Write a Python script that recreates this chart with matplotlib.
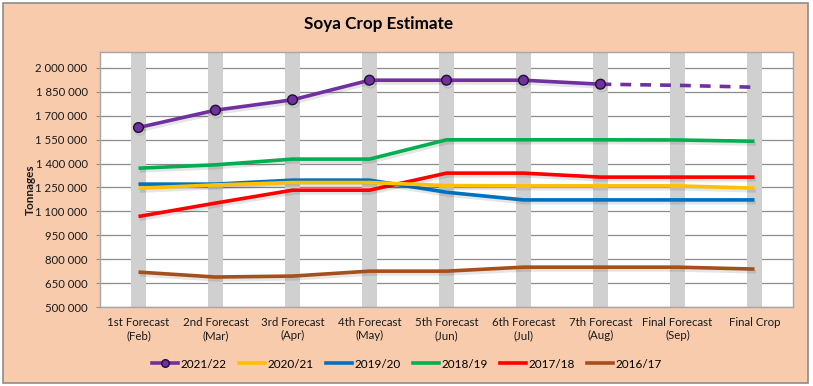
import matplotlib
matplotlib.use("Agg")
import matplotlib.pyplot as plt
import matplotlib.patheffects as pe
from matplotlib.patches import Rectangle
from matplotlib.lines import Line2D
from matplotlib.ticker import FuncFormatter
import numpy as np

categories = ["1st Forecast\n(Feb)", "2nd Forecast\n(Mar)", "3rd Forecast\n(Apr)", "4th Forecast\n(May)",
              "5th Forecast\n(Jun)", "6th Forecast\n(Jul)", "7th Forecast\n(Aug)", "Final Forecast\n(Sep)",
              "Final Crop"]

s2021_22 = [1626000, 1735000, 1800000, 1923000, 1923000, 1923000, 1898000, None, None]
s2021_22_proj = [None, None, None, None, None, None, 1898000, 1891000, 1879000]
s2020_21 = [1245000, 1266000, 1281000, 1281000, 1262000, 1260000, 1260000, 1260000, 1246000]
s2019_20 = [1271000, 1271000, 1296000, 1296000, 1220000, 1172000, 1172000, 1172000, 1172000]
s2018_19 = [1371000, 1392000, 1428000, 1428000, 1549000, 1549000, 1549000, 1548000, 1540000]
s2017_18 = [1068000, 1152000, 1233000, 1233000, 1340000, 1340000, 1315000, 1315000, 1315000]
s2016_17 = [719000, 688000, 694000, 725000, 725000, 750000, 750000, 750000, 738000]
highlight = [2100000, 2100000, 2100000, 2100000, 2100000, 2100000, 2100000, 2100000, 2100000]

W, H = 813, 386
fig = plt.figure(figsize=(W / 100, H / 100), dpi=100)
fig.patch.set_facecolor("white")
bg = Rectangle((3 / W, 3 / H), 805 / W, 380 / H, transform=fig.transFigure,
               facecolor="#F8CBAD", edgecolor="#8C8C8C", linewidth=1.2, zorder=-10)
fig.patches.append(bg)

font = "Lato"
ax = fig.add_axes([100 / W, 1 - 307 / H, 693 / W, 255 / H])
ax.set_zorder(1)
ax.set_facecolor("white")
x = np.arange(len(categories))

ax.bar(x, [h - 500000 for h in highlight], bottom=500000, width=0.19, color="#D0D0D0", zorder=2)

shadow = [pe.SimpleLineShadow(offset=(1.0, -2.0), shadow_color="#000000", alpha=0.10), pe.Normal()]

def to_arr(s):
    return np.array([np.nan if v is None else v for v in s], dtype=float)

series = [
    ("2016/17", s2016_17, "#A5501C"),
    ("2017/18", s2017_18, "#FF0000"),
    ("2018/19", s2018_19, "#00B050"),
    ("2019/20", s2019_20, "#0070C0"),
    ("2020/21", s2020_21, "#FFC000"),
]
colors = {}
for name, vals, col in series:
    ax.plot(x, to_arr(vals), color=col, lw=2.6, zorder=4, path_effects=shadow,
            solid_capstyle="butt", solid_joinstyle="round")
    colors[name] = col

ax.plot(x, to_arr(s2021_22_proj), color="#7030A0", lw=2.6, ls=(0, (3, 2.5)), zorder=5,
        dash_capstyle="butt")
ax.plot(x, to_arr(s2021_22), color="#7030A0", lw=2.6, zorder=6, marker="o", markersize=7,
        markerfacecolor="#7030A0", markeredgecolor="#1F0F30", markeredgewidth=1.0,
        path_effects=shadow)

ax.set_xlim(-0.5, len(categories) - 0.5)
ax.set_ylim(500000, 2100000)
ax.set_yticks(np.arange(500000, 2000001, 150000))
ax.yaxis.set_major_formatter(FuncFormatter(lambda v, p: f"{int(v):,}".replace(",", " ")))
ax.grid(axis="y", color="#8C8C8C", lw=0.9, zorder=1)
ax.set_axisbelow(True)
ax.set_xticks(x)
ax.set_xticklabels(categories, fontsize=8.3, fontfamily=font, color="#1a1a1a", linespacing=1.25)
for lbl in ax.get_yticklabels():
    lbl.set_fontfamily(font)
    lbl.set_fontsize(8.2)
    lbl.set_color("#1a1a1a")
ax.tick_params(axis="x", length=0, pad=7)
ax.tick_params(axis="y", length=3, color="#8C8C8C", pad=6)
for side, sp in ax.spines.items():
    sp.set_color("#A6A6A6")
    sp.set_linewidth(1.0)

fig.text(30 / W, 1 - 190 / H, "Tonnages", rotation=90, ha="center", va="center",
         fontsize=8.5, fontweight="bold", fontfamily=font, color="#1a1a1a")
fig.text(379 / W, 1 - 24 / H, "Soya Crop Estimate", ha="center", va="center",
         fontsize=12.3, fontweight="bold", fontfamily=font, color="#000000")

order = ["2021/22", "2020/21", "2019/20", "2018/19", "2017/18", "2016/17"]
handles = [Line2D([], [], color="#7030A0", lw=2.6, marker="o", markersize=5.5,
                  markerfacecolor="#7030A0", markeredgecolor="#1F0F30")]
handles += [Line2D([], [], color=colors[k], lw=2.6) for k in order[1:]]
fig.legend(handles, order, loc="center", bbox_to_anchor=(407 / W, 1 - 364 / H),
           ncol=6, frameon=False, prop={"family": font, "size": 8.5}, handlelength=2.2,
           handletextpad=0.25, columnspacing=1.0)

fig.savefig("out.png", dpi=100)
